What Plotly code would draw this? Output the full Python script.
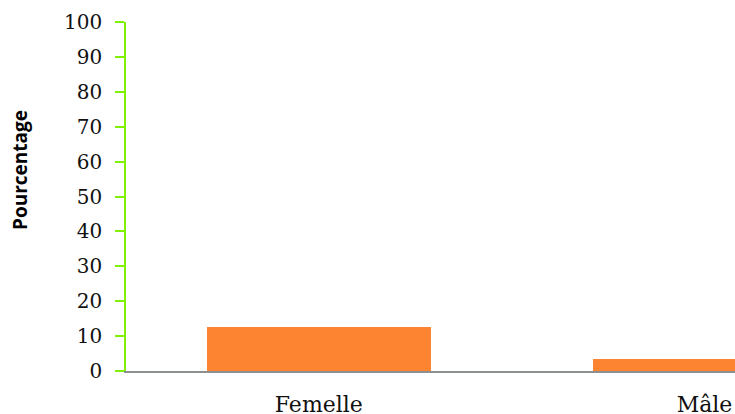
import plotly.graph_objects as go

# Share of each sex (%)
categories = ["Femelle", "Mâle"]
percentages = [12.6, 3.4]
y_ticks = [0, 10, 20, 30, 40, 50, 60, 70, 80, 90, 100]

fig = go.Figure(
    go.Bar(
        x=categories,
        y=percentages,
        width=0.58,
        marker=dict(color="#FD8532", line=dict(width=0)),
    )
)

fig.update_layout(
    width=735,
    height=414,
    margin=dict(l=126, r=0, t=22, b=43, autoexpand=False),
    plot_bgcolor="white",
    paper_bgcolor="white",
    showlegend=False,
    bargap=0,
)

fig.update_xaxes(
    type="category",
    range=[-0.5, 1.079],
    automargin=False,
    showline=True,
    linecolor="#8C9090",
    linewidth=1.5,
    showgrid=False,
    zeroline=False,
    ticks="",
    ticklabelstandoff=13,
    tickfont=dict(family="DejaVu Serif", size=22, color="#111111"),
)

fig.update_yaxes(
    range=[0, 100],
    tickvals=y_ticks,
    automargin=False,
    showline=True,
    linecolor="#80F000",
    linewidth=1.5,
    ticks="outside",
    ticklen=9,
    tickwidth=1.5,
    tickcolor="#80F000",
    ticklabelstandoff=9,
    showgrid=False,
    zeroline=False,
    tickfont=dict(family="DejaVu Serif", size=20, color="#111111"),
)

fig.add_annotation(
    text="<b>Pourcentage</b>",
    xref="paper",
    yref="paper",
    x=0,
    y=0.576,
    xanchor="center",
    yanchor="middle",
    xshift=-106,
    textangle=-90,
    showarrow=False,
    font=dict(family="Open Sans", size=19, color="#000000"),
)

fig.write_html("out.html")
